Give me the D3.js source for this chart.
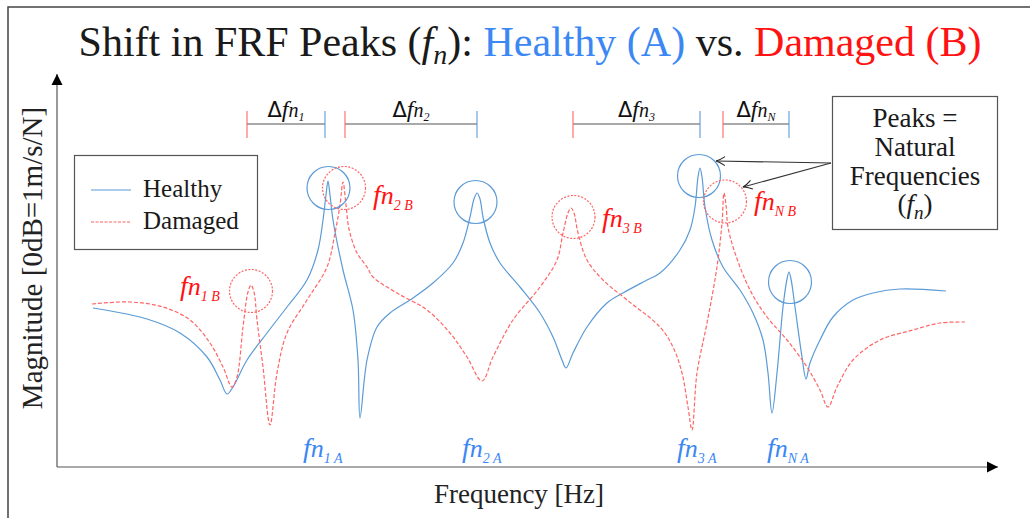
<!DOCTYPE html>
<html>
<head>
<meta charset="utf-8">
<script src="https://cdn.jsdelivr.net/npm/d3@7"></script>
</head>
<body style="margin:0">
<script>
var w = 1030;
var h = 518;
var serif = "Liberation Serif";

// curves: [frequency, magnitude] in relative units
var healthy = [
  [36,159],[90,148],[123,134],[150,110],[163,87],[170,73],[176,80],[190,107],
  [210,134],[230,160],[250,187],[261,217],[266,247],[269,272],[271,286],[273,272],
  [276,247],[286,197],[296,157],[301,107],[303,49],[310,107],[320,140],[333,154],
  [353,167],[376,184],[396,204],[406,224],[413,250],[417,268],[420,274],[423,268],
  [426,250],[433,224],[443,204],[463,180],[483,154],[496,130],[505,107],[509,99],
  [516,114],[530,140],[550,164],[566,174],[590,187],[603,194],[623,217],[633,237],
  [638,260],[641,290],[643,299],[645,290],[648,260],[655,227],[666,200],[683,177],
  [696,154],[706,127],[711,94],[715,54],[720,94],[726,160],[730,188],[732,195],
  [734,188],[738,160],[745,110],[749,88],[753,104],[763,127],[776,150],[796,167],
  [816,174],[843,178],[889,176]
];

var damaged = [
  [35,163],[73,165],[106,160],[133,147],[153,124],[166,100],[175,80],[180,90],
  [186,140],[191,175],[194,182],[197,175],[200,147],[206,100],[213,42],[220,94],
  [230,134],[250,167],[270,200],[278,234],[283,262],[286,285],[289,262],[292,238],
  [300,214],[310,200],[316,190],[340,174],[370,157],[393,134],[410,110],[425,86],
  [436,110],[456,147],[483,180],[500,207],[506,234],[511,254],[514,259],[517,254],
  [521,234],[530,207],[546,187],[570,167],[603,140],[616,120],[625,94],[631,60],
  [635,37],[640,94],[650,144],[660,200],[665,244],[667,274],[669,262],[671,240],
  [678,214],[693,177],[710,150],[730,127],[750,100],[763,77],[771,60],[780,80],
  [796,107],[823,127],[856,137],[883,144],[908,145]
];

// circled peaks (centres) and their labels
var healthyPeaks = [[271.5,279],[418.5,265],[642,291],[733,185]];
var damagedPeaks = [[194,176],[287,279],[516.5,250],[668,265.5]];
var modeNames = ["1","2","3","N"];
var labelsA = [[246,10],[405,10],[620,10],[710,10]];
var labelsB = [[123,172],[316,263],[545,240],[697,257]];

// frequency shift brackets
var deltaStart = [190,288,516,666];
var deltaEnd = [268,420,643,732];

var seriesNames = ["Healthy","Damaged"];

var blueLine = "#5b9bd6";
var redLine = "#ff6565";
var blueText = "#3b87f4";
var redText = "#ff1212";

var x = d3.scaleLinear().domain([0, 941]).range([57, 998]);
var y = d3.scaleLinear().domain([0, 393]).range([467, 74]);

var svg = d3.select("body")
    .append("svg")
    .attr("width", w)
    .attr("height", h)
    .attr("font-family", serif);

var defs = svg.append("defs");
defs.append("marker")
    .attr("id", "tri")
    .attr("viewBox", "-11 -6 12 12")
    .attr("markerUnits", "userSpaceOnUse")
    .attr("markerWidth", 12).attr("markerHeight", 12)
    .attr("refX", 0).attr("refY", 0)
    .attr("orient", "auto")
    .append("path").attr("d", "M-11,-5.5L0,0L-11,5.5Z").attr("fill", "#000");
defs.append("marker")
    .attr("id", "open")
    .attr("viewBox", "-11 -6 12 12")
    .attr("markerUnits", "userSpaceOnUse")
    .attr("markerWidth", 12).attr("markerHeight", 12)
    .attr("refX", 0).attr("refY", 0)
    .attr("orient", "auto")
    .append("path").attr("d", "M-9,-4.5Q-4,-1 0,0Q-4,1 -9,4.5")
    .attr("fill", "none").attr("stroke", "#222").attr("stroke-width", 1.1);

// frame
svg.append("path")
    .attr("d", "M8,518V7H1030")
    .attr("fill", "none")
    .attr("stroke", "#444")
    .attr("stroke-width", 1.5);

// plain text in the serif face
function txt(g, px, py, size) {
  return g.append("text")
      .attr("x", px).attr("y", py)
      .attr("font-size", size)
      .attr("font-family", serif);
}

// helper for f_n style labels
function mathText(g, px, py, parts, color, anchor) {
  var t = txt(g, px, py, 20)
      .attr("fill", color)
      .attr("text-anchor", anchor || "start");
  var prev = 0;
  parts.forEach(function(p) {
    var ts = t.append("tspan")
      .text(p[0])
      .attr("font-size", p[1])
      .attr("dy", p[2] - prev)
      .attr("font-style", p[3] ? "italic" : "normal");
    if (p[4]) ts.attr("font-family", "DejaVu Sans");
    prev = p[2];
  });
  return t;
}

// title
var title = txt(svg, 530, 56, 42)
    .attr("text-anchor", "middle")
    .attr("fill", "#1a1a1a");
title.append("tspan").text("Shift in FRF Peaks (");
title.append("tspan").text("f").attr("font-style", "italic");
title.append("tspan").text("n").attr("font-style", "italic").attr("font-size", 28).attr("dy", 8);
title.append("tspan").text("): ").attr("dy", -8);
title.append("tspan").text("Healthy (A)").attr("fill", blueText);
title.append("tspan").text(" vs. ");
title.append("tspan").text("Damaged (B)").attr("fill", redText);

// axes
svg.append("line")
    .attr("x1", x(0)).attr("y1", y(0))
    .attr("x2", x(0)).attr("y2", y(393))
    .attr("stroke", "#555").attr("stroke-width", 1.2)
    .attr("marker-end", "url(#tri)");
svg.append("line")
    .attr("x1", x(0)).attr("y1", y(0))
    .attr("x2", x(941)).attr("y2", y(0))
    .attr("stroke", "#555").attr("stroke-width", 1.2)
    .attr("marker-end", "url(#tri)");

txt(svg, 519, 503, 27)
    .attr("text-anchor", "middle")
    .attr("fill", "#222")
    .text("Frequency [Hz]");
txt(svg, 0, 0, 29)
    .attr("transform", "translate(42,258) rotate(-90)")
    .attr("text-anchor", "middle")
    .attr("fill", "#222")
    .text("Magnitude [0dB=1m/s/N]");

// curves
var line = d3.line()
    .x(function(d) { return x(d[0]); })
    .y(function(d) { return y(d[1]); })
    .curve(d3.curveCatmullRom.alpha(0.5));

svg.append("path")
    .datum(healthy)
    .attr("d", line)
    .attr("fill", "none")
    .attr("stroke", blueLine)
    .attr("stroke-width", 1.2);
svg.append("path")
    .datum(damaged)
    .attr("d", line)
    .attr("fill", "none")
    .attr("stroke", redLine)
    .attr("stroke-width", 1.2)
    .attr("stroke-dasharray", "4,2");

// peak circles
svg.selectAll("circle.a")
    .data(healthyPeaks)
    .enter()
    .append("circle")
    .attr("class", "a")
    .attr("cx", function(d) { return x(d[0]); })
    .attr("cy", function(d) { return y(d[1]); })
    .attr("r", 21.5)
    .attr("fill", "none")
    .attr("stroke", blueLine)
    .attr("stroke-width", 1.2);
svg.selectAll("circle.b")
    .data(damagedPeaks)
    .enter()
    .append("circle")
    .attr("class", "b")
    .attr("cx", function(d) { return x(d[0]); })
    .attr("cy", function(d) { return y(d[1]); })
    .attr("r", 21.5)
    .attr("fill", "none")
    .attr("stroke", redLine)
    .attr("stroke-width", 1.2)
    .attr("stroke-dasharray", "2,1.5");

// peak labels
var lab = svg.append("g");
labelsA.forEach(function(d, i) {
  mathText(lab, x(d[0]), y(d[1]),
    [["f",28,0,true],["n",26,0,true],[modeNames[i] + " A",14,6,true]], blueText);
});
labelsB.forEach(function(d, i) {
  mathText(lab, x(d[0]), y(d[1]),
    [["f",28,0,true],["n",26,0,true],[modeNames[i] + " B",14,6,true]], redText);
});

// delta brackets
var br = svg.append("g");
deltaStart.forEach(function(s, i) {
  var x1 = x(s), x2 = x(deltaEnd[i]);
  br.append("line").attr("x1", x1).attr("x2", x2).attr("y1", 124).attr("y2", 124)
    .attr("stroke", "#555").attr("stroke-width", 1.1);
  br.append("line").attr("x1", x1).attr("x2", x1).attr("y1", 111).attr("y2", 138)
    .attr("stroke", redLine).attr("stroke-width", 1.1);
  br.append("line").attr("x1", x2).attr("x2", x2).attr("y1", 111).attr("y2", 138)
    .attr("stroke", blueLine).attr("stroke-width", 1.1);
  mathText(br, (x1 + x2) / 2, 117,
    [["\u0394",21,0,false,true],["f",24,0,true],["n",20,0,true],[modeNames[i],12,4,true]],
    "#111", "middle");
});

// legend
var leg = svg.append("g");
leg.append("rect")
    .attr("x", 74.5).attr("y", 155.5)
    .attr("width", 183).attr("height", 94)
    .attr("fill", "#fff")
    .attr("stroke", "#555")
    .attr("stroke-width", 1.2);
seriesNames.forEach(function(name, i) {
  var ly = 190 + i * 32;
  leg.append("line")
    .attr("x1", 91).attr("x2", 131).attr("y1", ly).attr("y2", ly)
    .attr("stroke", i ? redLine : blueLine)
    .attr("stroke-width", 1.1)
    .attr("stroke-dasharray", i ? "3,1.5" : null);
  txt(leg, 143, ly + 7, 25)
    .attr("fill", "#1a1a1a")
    .text(name);
});

// annotation box
var box = svg.append("g");
box.append("rect")
    .attr("x", 832.5).attr("y", 96.5)
    .attr("width", 165).attr("height", 133)
    .attr("fill", "#fff")
    .attr("stroke", "#555")
    .attr("stroke-width", 1.2);
["Peaks =", "Natural", "Frequencies"].forEach(function(t, i) {
  txt(box, 915, 127 + i * 29, 27)
    .attr("text-anchor", "middle")
    .attr("fill", "#1a1a1a")
    .text(t);
});
mathText(box, 915, 213, [["(",27,0,false],["f",27,0,true],["n",19,6,true],[")",27,0,false]], "#1a1a1a", "middle");

box.append("line")
    .attr("x1", 831).attr("y1", 163)
    .attr("x2", 716).attr("y2", 161)
    .attr("stroke", "#333").attr("stroke-width", 1.1)
    .attr("marker-end", "url(#open)");
box.append("line")
    .attr("x1", 831).attr("y1", 163)
    .attr("x2", 743).attr("y2", 187)
    .attr("stroke", "#333").attr("stroke-width", 1.1)
    .attr("marker-end", "url(#open)");
</script>
</body>
</html>
